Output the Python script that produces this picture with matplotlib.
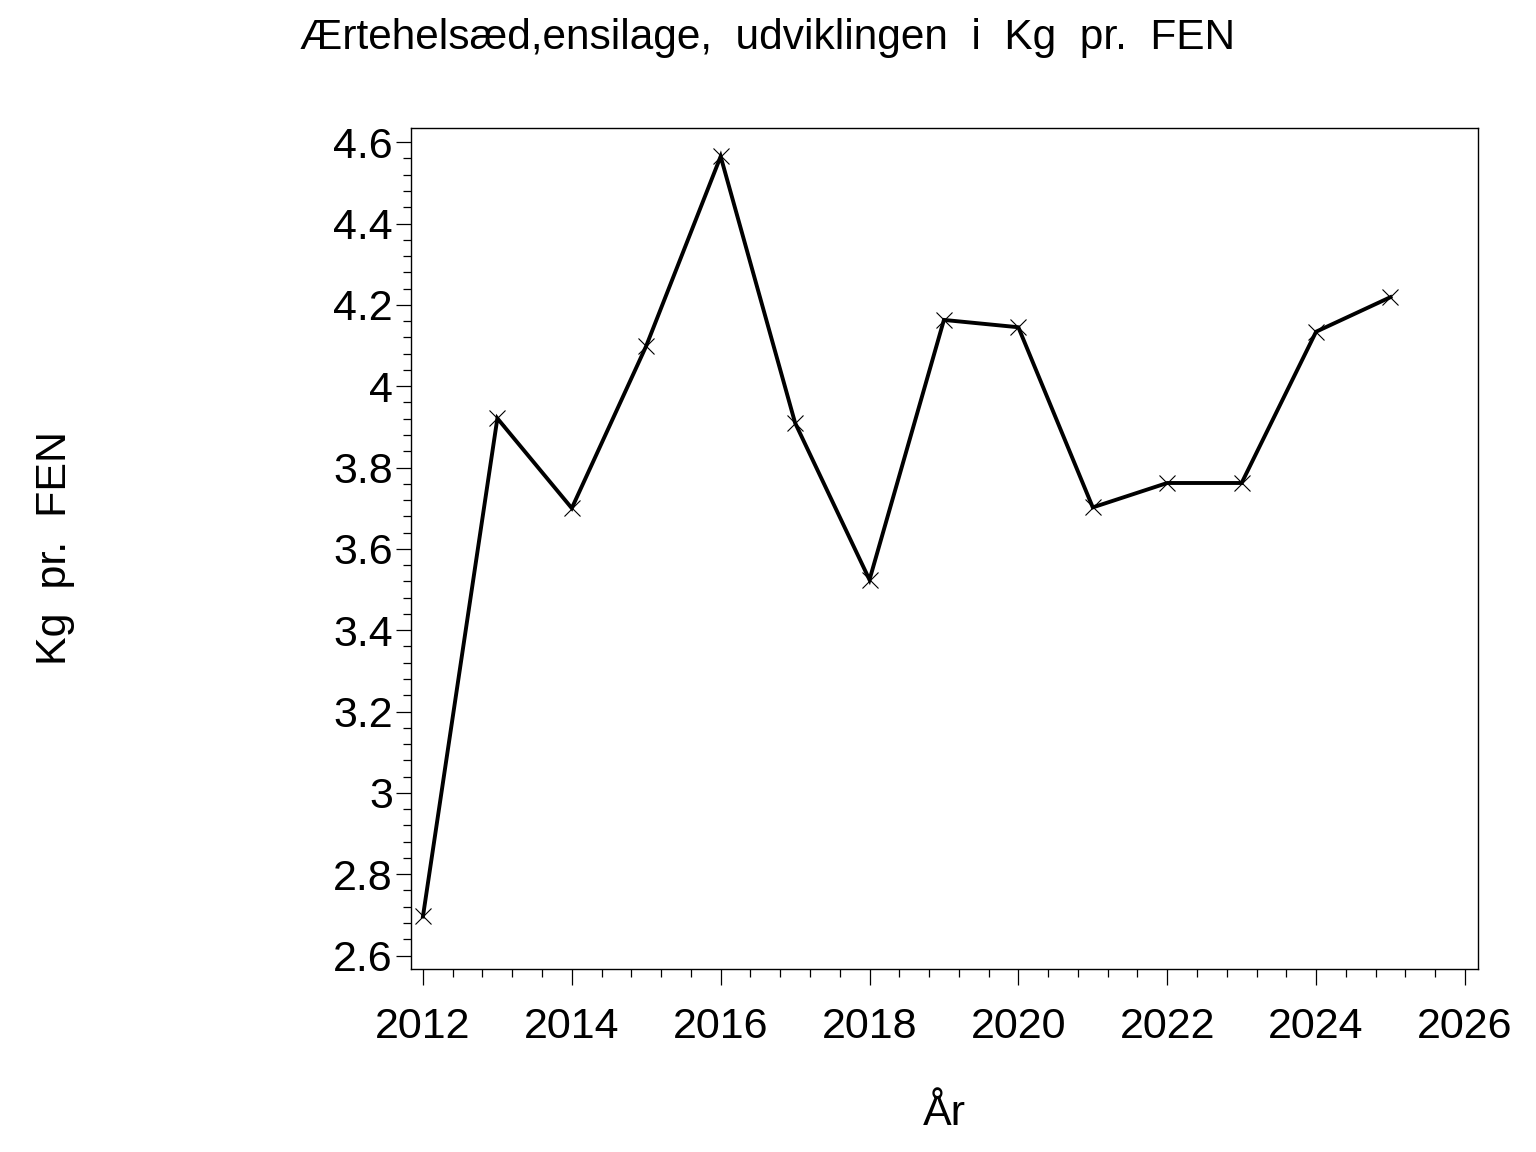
import matplotlib.pyplot as plt
from matplotlib.ticker import MultipleLocator

plt.rcParams['font.family'] = ['Liberation Sans', 'DejaVu Sans']

aar = [2012, 2013, 2014, 2015, 2016, 2017, 2018, 2019, 2020, 2021, 2022, 2023, 2024, 2025]
kg_pr_fen = [2.696, 3.921, 3.700, 4.099, 4.565, 3.910, 3.524, 4.163, 4.145, 3.702, 3.762, 3.762, 4.134, 4.219]

fig = plt.figure(figsize=(15.36, 11.52), dpi=100)
ax = fig.add_axes([0.2676, 0.1589, 0.6946, 0.7300])

ax.plot(aar, kg_pr_fen, color='black', lw=2.8, marker='x', markersize=11.5,
        markeredgewidth=0.8, solid_joinstyle='miter')

ax.set_xlim(2011.84, 2026.175)
ax.set_ylim(2.567, 4.635)
ax.xaxis.set_major_locator(MultipleLocator(2))
ax.xaxis.set_minor_locator(MultipleLocator(0.4))
ax.yaxis.set_minor_locator(MultipleLocator(0.04))
ax.set_yticks([2.6, 2.8, 3.0, 3.2, 3.4, 3.6, 3.8, 4.0, 4.2, 4.4, 4.6])
ax.set_yticklabels(['2.6', '2.8', '3', '3.2', '3.4', '3.6', '3.8', '4', '4.2', '4.4', '4.6'])

ax.tick_params(which='major', direction='out', length=11, width=0.9, labelsize=31, pad=2)
ax.tick_params(which='minor', direction='out', length=5.5, width=0.9)
ax.tick_params(axis='x', which='major', length=11.5, pad=16)
for s in ax.spines.values():
    s.set_linewidth(1.0)

ax.set_xlabel('År', fontsize=31, labelpad=34)
fig.text(0.036, 0.524, 'Kg  pr.  FEN', rotation=90, fontsize=31, ha='center', va='center')
fig.text(0.5, 0.967, 'Ærtehelsæd,ensilage,  udviklingen  i  Kg  pr.  FEN', fontsize=30.5,
         ha='center', va='center')

fig.savefig('out.png', dpi=100, facecolor='white')
